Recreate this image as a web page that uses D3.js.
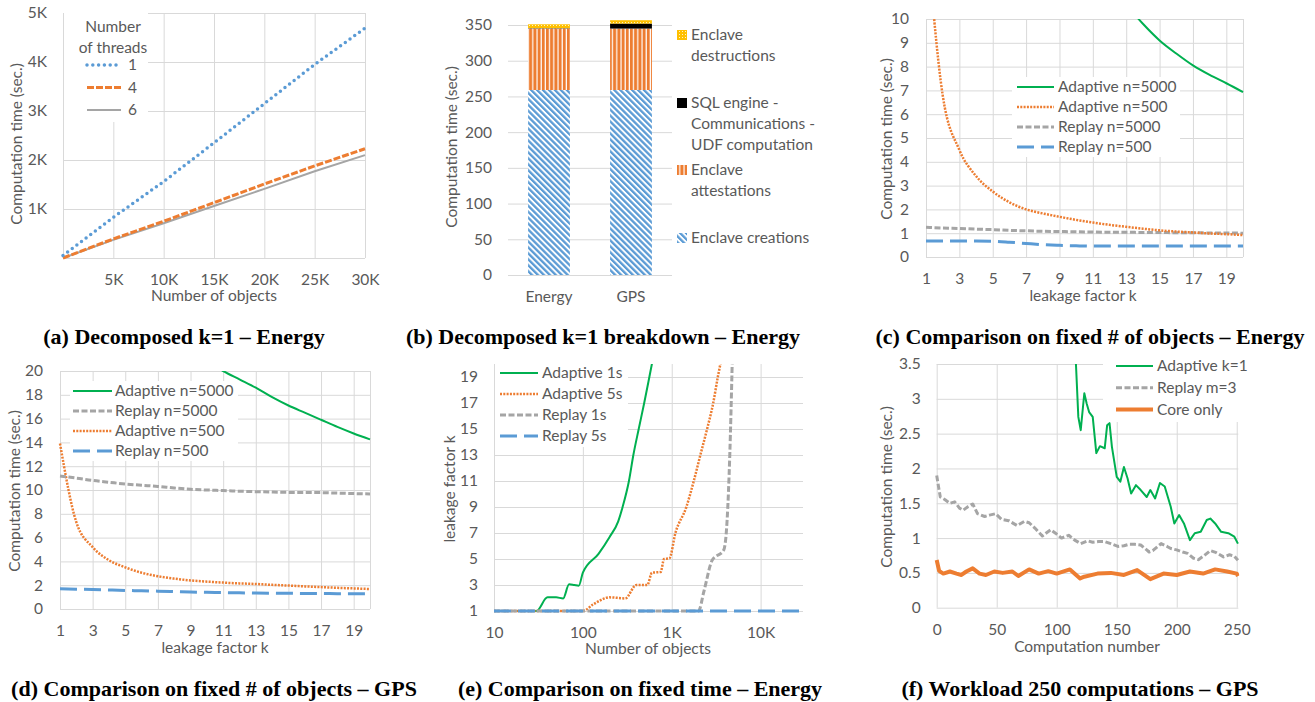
<!DOCTYPE html>
<html>
<head>
<meta charset="utf-8">
<script src="https://cdnjs.cloudflare.com/ajax/libs/d3/7.8.5/d3.min.js"></script>
<style>
  body { margin: 0; background: #fff; }
  text { font-family: Lato, "Open Sans", sans-serif; }
  .caption { font-family: "Liberation Serif", serif; font-weight: bold; }
</style>
</head>
<body>
<script>
// (a) decomposed k=1, threads
var threadObjects = [0, 5000, 10000, 15000, 20000, 25000, 30000];
var threads1 = [50, 830, 1560, 2350, 3150, 3950, 4690];
var threads4 = [0, 390, 750, 1130, 1510, 1880, 2230];
var threads6 = [0, 370, 710, 1060, 1410, 1770, 2100];
var threadTicksY = [0, 1000, 2000, 3000, 4000, 5000];
var threadTicksX = [0, 5000, 10000, 15000, 20000, 25000, 30000];

// (b) breakdown
var breakdownCats = ["Energy", "GPS"];
var creations = [259, 259];
var attestations = [86, 86];
var sqlEngine = [0.5, 7];
var destructions = [5.5, 4.7];
var breakdownTicks = [0, 50, 100, 150, 200, 250, 300, 350];

// (c) fixed # of objects - Energy
var kValues = [1, 2, 3, 4, 5, 6, 7, 8, 9, 10, 11, 12, 13, 14, 15, 16, 17, 18, 19, 20];
var cAdaptive5000 = [null, null, null, null, null, null, null, null, null, null, null, null, 10.6, 9.8, 9.1, 8.55, 8.05, 7.65, 7.3, 6.93];
var cAdaptive500 = [14, 6.8, 4.5, 3.4, 2.75, 2.3, 2.0, 1.83, 1.69, 1.56, 1.45, 1.35, 1.27, 1.19, 1.12, 1.07, 1.03, 0.99, 0.96, 0.92];
var cReplay5000 = [1.25, 1.22, 1.2, 1.17, 1.15, 1.12, 1.1, 1.08, 1.07, 1.06, 1.05, 1.04, 1.04, 1.03, 1.03, 1.02, 1.02, 1.01, 1.01, 1.0];
var cReplay500 = [0.67, 0.67, 0.67, 0.67, 0.66, 0.62, 0.57, 0.52, 0.49, 0.47, 0.46, 0.46, 0.46, 0.46, 0.46, 0.46, 0.46, 0.46, 0.46, 0.46];
var cTicksY = [0, 1, 2, 3, 4, 5, 6, 7, 8, 9, 10];
var kTicks = [1, 3, 5, 7, 9, 11, 13, 15, 17, 19, 20];

// (d) fixed # of objects - GPS
var dAdaptive5000 = [null, null, null, null, null, null, null, null, null, 20.8, 20.0, 19.3, 18.6, 17.8, 17.1, 16.5, 15.9, 15.3, 14.75, 14.25];
var dReplay5000 = [11.17, 11.0, 10.8, 10.65, 10.5, 10.4, 10.3, 10.17, 10.06, 10.0, 9.95, 9.9, 9.86, 9.83, 9.8, 9.79, 9.78, 9.74, 9.7, 9.67];
var dAdaptive500 = [13.9, 7.3, 5.2, 4.1, 3.5, 3.05, 2.75, 2.55, 2.4, 2.3, 2.22, 2.15, 2.1, 2.03, 1.97, 1.9, 1.84, 1.78, 1.73, 1.68];
var dReplay500 = [1.7, 1.67, 1.64, 1.6, 1.56, 1.53, 1.5, 1.46, 1.42, 1.4, 1.38, 1.36, 1.34, 1.33, 1.32, 1.31, 1.3, 1.29, 1.28, 1.28];
var dTicksY = [0, 2, 4, 6, 8, 10, 12, 14, 16, 18, 20];

// (e) fixed time - Energy
var eAdaptive1sX = [10, 30, 40, 50, 60, 70, 80, 90, 100, 150, 200, 250, 280, 330, 370, 425, 490, 560, 610];
var eAdaptive1sY = [1, 1, 2.05, 2.05, 1.97, 3.05, 3.0, 2.95, 3.95, 5.4, 6.7, 7.9, 9, 11, 13, 15, 17, 19, 20.3];
var eAdaptive5sX = [10, 100, 130, 200, 300, 400, 530, 600, 750, 820, 940, 1100, 1460, 1770, 2100, 2500, 2930, 3300, 3600];
var eAdaptive5sY = [1, 1, 1.5, 2.05, 1.97, 3.0, 3.0, 3.95, 4.0, 5.0, 5.05, 7.0, 9.0, 11, 13, 15, 17, 19, 20.3];
var eReplay1sX = [10, 2000, 2300, 2850, 3850, 4200, 4500, 4800];
var eReplay1sY = [1, 1, 2.5, 4.9, 5.7, 8, 13, 20.3];
var eReplay5sX = [10, 30000];
var eReplay5sY = [1, 1];
var eTicksY = [1, 3, 5, 7, 9, 11, 13, 15, 17, 19];
var eTicksX = [10, 100, 1000, 10000];
var eTickLabels = ["10", "100", "1K", "10K"];

// (f) workload 250 computations - GPS
var fAdaptiveX = [115.5, 118, 120, 123, 125, 127, 130, 133, 136, 140, 142, 144, 146, 150, 153, 156, 159, 162, 166, 170, 175, 178, 182, 186, 190, 195, 198, 202, 206, 211, 215, 220, 225, 228, 232, 237, 243, 248, 251];
var fAdaptiveY = [3.7, 2.74, 2.55, 3.08, 2.93, 2.81, 2.74, 2.22, 2.32, 2.29, 2.62, 2.65, 2.31, 1.88, 1.81, 2.02, 1.86, 1.64, 1.76, 1.69, 1.59, 1.69, 1.57, 1.79, 1.74, 1.45, 1.21, 1.33, 1.21, 0.97, 1.07, 1.09, 1.26, 1.28, 1.21, 1.09, 1.07, 1.02, 0.92];
var fReplayX = [0, 1.5, 3, 7, 11, 15, 19, 22, 26, 30, 34, 40, 44, 49, 54, 60, 67, 73, 77, 82, 88, 91, 95, 99, 104, 110, 115, 120, 126, 130, 135, 140, 145, 151, 156, 160, 165, 170, 175, 177, 180, 187, 192, 195, 200, 205, 209, 214, 218, 223, 228, 233, 239, 244, 248, 251];
var fReplayY = [1.9, 1.74, 1.59, 1.55, 1.5, 1.52, 1.43, 1.4, 1.45, 1.49, 1.35, 1.31, 1.33, 1.35, 1.27, 1.25, 1.18, 1.24, 1.22, 1.14, 1.03, 1.07, 1.12, 1.07, 1.0, 1.04, 0.97, 0.92, 0.96, 0.94, 0.95, 0.95, 0.92, 0.88, 0.89, 0.91, 0.91, 0.9, 0.83, 0.8, 0.82, 0.92, 0.88, 0.85, 0.83, 0.8, 0.78, 0.71, 0.69, 0.75, 0.82, 0.79, 0.73, 0.76, 0.74, 0.68];
var fCoreX = [0, 2, 5.5, 11, 16.5, 20.6, 24.7, 30, 35.7, 41, 48, 55, 63, 68, 77, 85, 93, 100, 111, 119.5, 123, 134, 145, 156, 167, 178, 189, 200, 211, 222, 232, 242, 250, 251];
var fCoreY = [0.685, 0.53, 0.49, 0.52, 0.49, 0.47, 0.52, 0.565, 0.49, 0.47, 0.52, 0.5, 0.52, 0.455, 0.55, 0.49, 0.525, 0.49, 0.55, 0.42, 0.445, 0.49, 0.5, 0.47, 0.54, 0.41, 0.49, 0.47, 0.52, 0.49, 0.55, 0.52, 0.49, 0.455];
var fTicksY = [0, 0.5, 1, 1.5, 2, 2.5, 3, 3.5];
var fTicksX = [0, 50, 100, 150, 200, 250];

var gridColor = "#D9D9D9",
    textColor = "#595959",
    fontSize = "15.5px",
    blue = "#5B9BD5",
    orange = "#ED7D31",
    gray = "#A5A5A5",
    green = "#00B050",
    yellow = "#FFC000";

var svg = d3.select("body").append("svg")
  .attr("width", 1315)
  .attr("height", 702)
  .style("background", "#fff");
var defs = svg.append("defs");

// patterns for the stacked bars
var pCreate = defs.append("pattern").attr("id", "pCreate")
  .attr("patternUnits", "userSpaceOnUse")
  .attr("width", 4.2).attr("height", 4.2)
  .attr("patternTransform", "rotate(-45)");
pCreate.append("rect").attr("width", 4.2).attr("height", 4.2).attr("fill", "#fff");
pCreate.append("rect").attr("width", 2.3).attr("height", 4.2).attr("fill", blue);

var pAttest = defs.append("pattern").attr("id", "pAttest")
  .attr("patternUnits", "userSpaceOnUse")
  .attr("width", 4.2).attr("height", 10);
pAttest.append("rect").attr("width", 4.2).attr("height", 10).attr("fill", "#fff");
pAttest.append("rect").attr("width", 3).attr("height", 10).attr("fill", orange);

var pDestroy = defs.append("pattern").attr("id", "pDestroy")
  .attr("patternUnits", "userSpaceOnUse")
  .attr("width", 3).attr("height", 3);
pDestroy.append("rect").attr("width", 3).attr("height", 3).attr("fill", yellow);
pDestroy.append("rect").attr("x", 1).attr("y", 1).attr("width", 1).attr("height", 1).attr("fill", "#fff3c4");

function styleAxis(sel) {
  sel.select(".domain").remove();
  sel.selectAll(".tick line").attr("stroke", gridColor).attr("stroke-width", 1);
  sel.selectAll(".tick text").attr("fill", textColor).style("font-size", fontSize);
}

// draws grid, tick labels, axis titles and returns a clipped group for the data
function makePanel(name, x, y, o) {
  var left = d3.min(x.range()), right = d3.max(x.range()),
      top = d3.min(y.range()), bottom = d3.max(y.range());
  var g = svg.append("g").attr("class", "panel-" + name);

  var ya = g.append("g")
    .attr("transform", "translate(" + left + ",0)")
    .call(d3.axisLeft(y).tickValues(o.yTicks).tickSize(-(right - left))
      .tickPadding(o.yPad).tickFormat(o.yFormat || String));
  styleAxis(ya);

  var xa = g.append("g")
    .attr("transform", "translate(0," + bottom + ")")
    .call(d3.axisBottom(x).tickValues(o.xTicks).tickSize(o.xGrid ? -(bottom - top) : 0)
      .tickFormat(o.xFormat || String));
  styleAxis(xa);
  xa.selectAll(".tick text").attr("y", o.xOff).attr("dy", "0.35em");

  g.append("text")
    .attr("x", o.xTitle[0]).attr("y", o.xTitle[1]).attr("dy", "0.35em")
    .attr("text-anchor", "middle").attr("fill", textColor).style("font-size", fontSize)
    .text(o.xLabel);
  g.append("text")
    .attr("transform", "translate(" + o.yTitle[0] + "," + o.yTitle[1] + ") rotate(-90)")
    .attr("dy", "0.35em").attr("text-anchor", "middle")
    .attr("fill", textColor).style("font-size", fontSize)
    .text(o.yLabel);

  defs.append("clipPath").attr("id", "clip-" + name)
    .append("rect")
    .attr("x", left - 3).attr("y", top)
    .attr("width", right - left + 4).attr("height", bottom - top + 3);
  var plot = g.append("g").attr("clip-path", "url(#clip-" + name + ")");
  return {g: g, plot: plot};
}

function drawSeries(plot, x, y, xs, ys, st, curve) {
  var pts = xs.map(function(v, i){ return [v, ys[i]]; });
  var line = d3.line()
    .defined(function(d){ return d[1] != null; })
    .x(function(d){ return x(d[0]); })
    .y(function(d){ return y(d[1]); })
    .curve(curve || d3.curveLinear);
  plot.append("path").datum(pts)
    .attr("d", line)
    .attr("fill", "none")
    .attr("stroke", st.color)
    .attr("stroke-width", st.width)
    .attr("stroke-dasharray", st.dash || null)
    .attr("stroke-linecap", st.cap || "butt")
    .attr("stroke-linejoin", "round");
}

function drawLegend(g, items, o) {
  g.append("rect")
    .attr("x", o.box[0]).attr("y", o.box[1])
    .attr("width", o.box[2]).attr("height", o.box[3])
    .attr("fill", "#fff");
  items.forEach(function(it, i){
    var yy = o.y0 + i * o.dy;
    g.append("line")
      .attr("x1", o.x1).attr("x2", o.x2).attr("y1", yy).attr("y2", yy)
      .attr("stroke", it.st.color).attr("stroke-width", it.st.width)
      .attr("stroke-dasharray", it.st.dash || null)
      .attr("stroke-linecap", it.st.cap || "butt");
    g.append("text")
      .attr("x", o.tx).attr("y", yy).attr("dy", "0.35em")
      .attr("fill", textColor).style("font-size", fontSize)
      .text(it.label);
  });
}

var stGreen = {color: green, width: 2},
    stOrangeDot = {color: orange, width: 2.5, dash: "2 1.3"},
    stGrayDash = {color: gray, width: 3, dash: "6 2.5"},
    stBlueLong = {color: blue, width: 3, dash: "17 7"};

// ---------------- (a)
var xa = d3.scaleLinear().domain([0, 30000]).range([63, 365]);
var ya = d3.scaleLinear().domain([0, 5000]).range([258, 13]);
var pa = makePanel("a", xa, ya, {
  yTicks: threadTicksY, yPad: 16, xTicks: threadTicksX, xGrid: true, xOff: 22,
  yFormat: function(d){ return d === 0 ? "" : (d / 1000) + "K"; },
  xFormat: function(d){ return d === 0 ? "" : (d / 1000) + "K"; },
  xLabel: "Number of objects", xTitle: [214, 296],
  yLabel: "Computation time (sec.)", yTitle: [17, 144]
});
var stT1 = {color: blue, width: 3.5, dash: "0 5.8", cap: "round"},
    stT4 = {color: orange, width: 3, dash: "7 2"},
    stT6 = {color: gray, width: 2};
drawSeries(pa.plot, xa, ya, threadObjects, threads6, stT6);
drawSeries(pa.plot, xa, ya, threadObjects, threads4, stT4);
drawSeries(pa.plot, xa, ya, threadObjects, threads1, stT1);
drawLegend(pa.g, [
  {label: "1", st: stT1}, {label: "4", st: stT4}, {label: "6", st: stT6}
], {box: [64, 13, 84, 109], y0: 65, dy: 22.5, x1: 87, x2: 121, tx: 128});
pa.g.append("text").attr("x", 113).attr("y", 27).attr("dy", "0.35em")
  .attr("text-anchor", "middle").attr("fill", textColor).style("font-size", fontSize)
  .text("Number");
pa.g.append("text").attr("x", 113).attr("y", 48).attr("dy", "0.35em")
  .attr("text-anchor", "middle").attr("fill", textColor).style("font-size", fontSize)
  .text("of threads");

// ---------------- (b)
var xb = d3.scaleBand().domain(breakdownCats).range([508, 672])
  .paddingInner(0.49).paddingOuter(0.245);
var yb = d3.scaleLinear().domain([0, 350]).range([275, 25]);
var pb = makePanel("b", xb, yb, {
  yTicks: breakdownTicks, yPad: 16, xTicks: breakdownCats, xGrid: false, xOff: 22,
  xLabel: "", xTitle: [590, 296],
  yLabel: "Computation time (sec.)", yTitle: [452, 147]
});
var breakdownRows = breakdownCats.map(function(c, i){
  return {cat: c, creations: creations[i], attestations: attestations[i],
          sql: sqlEngine[i], destructions: destructions[i]};
});
var stackKeys = ["creations", "attestations", "sql", "destructions"];
var stackFill = {creations: "url(#pCreate)", attestations: "url(#pAttest)",
                 sql: "#000", destructions: "url(#pDestroy)"};
var stacked = d3.stack().keys(stackKeys)(breakdownRows);
pb.g.selectAll("g.layer")
  .data(stacked)
  .enter().append("g")
  .attr("class", "layer")
  .attr("fill", function(d){ return stackFill[d.key]; })
  .selectAll("rect")
    .data(function(d){ return d; })
    .enter().append("rect")
    .attr("x", function(d){ return xb(d.data.cat); })
    .attr("width", xb.bandwidth())
    .attr("y", function(d){ return yb(d[1]); })
    .attr("height", function(d){ return yb(d[0]) - yb(d[1]); });

var breakdownLegend = [
  {fill: "url(#pDestroy)", y: 35, lines: ["Enclave", "destructions"]},
  {fill: "#000", y: 103, lines: ["SQL engine -", "Communications -", "UDF computation"]},
  {fill: "url(#pAttest)", y: 170, lines: ["Enclave", "attestations"]},
  {fill: "url(#pCreate)", y: 238, lines: ["Enclave creations"]}
];
breakdownLegend.forEach(function(it){
  pb.g.append("rect").attr("x", 677).attr("y", it.y - 5)
    .attr("width", 10).attr("height", 10).attr("fill", it.fill);
  it.lines.forEach(function(t, j){
    pb.g.append("text").attr("x", 691).attr("y", it.y + j * 21).attr("dy", "0.35em")
      .attr("fill", textColor).style("font-size", fontSize).text(t);
  });
});

// ---------------- (c)
var xc = d3.scaleLinear().domain([1, 20]).range([926, 1243]);
var yc = d3.scaleLinear().domain([0, 10]).range([257, 19]);
var pc = makePanel("c", xc, yc, {
  yTicks: cTicksY, yPad: 17, xTicks: kTicks, xGrid: true, xOff: 22,
  xFormat: function(d){ return d === 20 ? "" : d; },
  xLabel: "leakage factor k", xTitle: [1083, 296],
  yLabel: "Computation time (sec.)", yTitle: [887, 139]
});
drawSeries(pc.plot, xc, yc, kValues, cReplay500, stBlueLong, d3.curveMonotoneX);
drawSeries(pc.plot, xc, yc, kValues, cReplay5000, stGrayDash, d3.curveMonotoneX);
drawSeries(pc.plot, xc, yc, kValues, cAdaptive500, stOrangeDot, d3.curveMonotoneX);
drawSeries(pc.plot, xc, yc, kValues, cAdaptive5000, stGreen, d3.curveMonotoneX);
drawLegend(pc.g, [
  {label: "Adaptive n=5000", st: stGreen},
  {label: "Adaptive n=500", st: stOrangeDot},
  {label: "Replay n=5000", st: stGrayDash},
  {label: "Replay n=500", st: stBlueLong}
], {box: [1012, 77, 168, 80], y0: 87, dy: 20, x1: 1017, x2: 1054, tx: 1058});

// ---------------- (d)
var xd = d3.scaleLinear().domain([1, 20]).range([60, 370]);
var yd = d3.scaleLinear().domain([0, 20]).range([609, 371]);
var pd = makePanel("d", xd, yd, {
  yTicks: dTicksY, yPad: 17, xTicks: kTicks, xGrid: true, xOff: 22,
  xFormat: function(d){ return d === 20 ? "" : d; },
  xLabel: "leakage factor k", xTitle: [215, 648],
  yLabel: "Computation time (sec.)", yTitle: [15, 491]
});
drawSeries(pd.plot, xd, yd, kValues, dReplay500, stBlueLong, d3.curveMonotoneX);
drawSeries(pd.plot, xd, yd, kValues, dAdaptive500, stOrangeDot, d3.curveMonotoneX);
drawSeries(pd.plot, xd, yd, kValues, dReplay5000, stGrayDash, d3.curveMonotoneX);
drawSeries(pd.plot, xd, yd, kValues, dAdaptive5000, stGreen, d3.curveMonotoneX);
drawLegend(pd.g, [
  {label: "Adaptive n=5000", st: stGreen},
  {label: "Replay n=5000", st: stGrayDash},
  {label: "Adaptive n=500", st: stOrangeDot},
  {label: "Replay n=500", st: stBlueLong}
], {box: [70, 381, 168, 80], y0: 391, dy: 20, x1: 73, x2: 112, tx: 115});

// ---------------- (e)
var xe = d3.scaleLog().domain([10, 30000]).range([494, 803]);
var ye = d3.scaleLinear().domain([1, 20]).range([611, 364]);
var pe = makePanel("e", xe, ye, {
  yTicks: eTicksY, yPad: 16, xTicks: eTicksX, xGrid: true, xOff: 22,
  xFormat: function(d, i){ return eTickLabels[i]; },
  xLabel: "Number of objects", xTitle: [648, 649],
  yLabel: "leakage factor k", yTitle: [450, 489]
});
drawSeries(pe.plot, xe, ye, eAdaptive1sX, eAdaptive1sY, stGreen, d3.curveMonotoneX);
drawSeries(pe.plot, xe, ye, eAdaptive5sX, eAdaptive5sY, stOrangeDot, d3.curveMonotoneX);
drawSeries(pe.plot, xe, ye, eReplay1sX, eReplay1sY, stGrayDash, d3.curveMonotoneX);
drawSeries(pe.plot, xe, ye, eReplay5sX, eReplay5sY, stBlueLong);
drawLegend(pe.g, [
  {label: "Adaptive 1s", st: stGreen},
  {label: "Adaptive 5s", st: stOrangeDot},
  {label: "Replay 1s", st: stGrayDash},
  {label: "Replay 5s", st: stBlueLong}
], {box: [495, 364, 133, 83], y0: 373, dy: 21, x1: 500, x2: 538, tx: 542});

// ---------------- (f)
var xf = d3.scaleLinear().domain([0, 251.3]).range([936.7, 1238.3]);
var yf = d3.scaleLinear().domain([0, 3.5]).range([607.7, 364]);
var pf = makePanel("f", xf, yf, {
  yTicks: fTicksY, yPad: 16, xTicks: fTicksX, xGrid: true, xOff: 22,
  xLabel: "Computation number", xTitle: [1087, 647],
  yLabel: "Computation time (sec.)", yTitle: [887, 487]
});
var stCore = {color: orange, width: 4};
drawSeries(pf.plot, xf, yf, fCoreX, fCoreY, stCore);
drawSeries(pf.plot, xf, yf, fReplayX, fReplayY, stGrayDash);
drawSeries(pf.plot, xf, yf, fAdaptiveX, fAdaptiveY, stGreen);
drawLegend(pf.g, [
  {label: "Adaptive k=1", st: stGreen},
  {label: "Replay m=3", st: stGrayDash},
  {label: "Core only", st: stCore}
], {box: [1103, 364, 137, 58], y0: 366, dy: 21.8, x1: 1116, x2: 1153, tx: 1157});

// ---------------- captions
var captions = [
  {t: "(a) Decomposed k=1 \u2013 Energy", x: 184, y: 336},
  {t: "(b) Decomposed k=1 breakdown \u2013 Energy", x: 603, y: 336},
  {t: "(c) Comparison on fixed # of objects \u2013 Energy", x: 1090, y: 336},
  {t: "(d) Comparison on fixed # of objects \u2013 GPS", x: 214, y: 688},
  {t: "(e) Comparison on fixed time \u2013 Energy", x: 640, y: 688},
  {t: "(f) Workload 250 computations \u2013 GPS", x: 1080, y: 688}
];
svg.selectAll("text.caption")
  .data(captions)
  .enter().append("text")
  .attr("class", "caption")
  .attr("x", function(d){ return d.x; })
  .attr("y", function(d){ return d.y; })
  .attr("dy", "0.35em")
  .attr("text-anchor", "middle")
  .style("font-size", "22px")
  .attr("fill", "#000")
  .text(function(d){ return d.t; });
</script>
</body>
</html>
